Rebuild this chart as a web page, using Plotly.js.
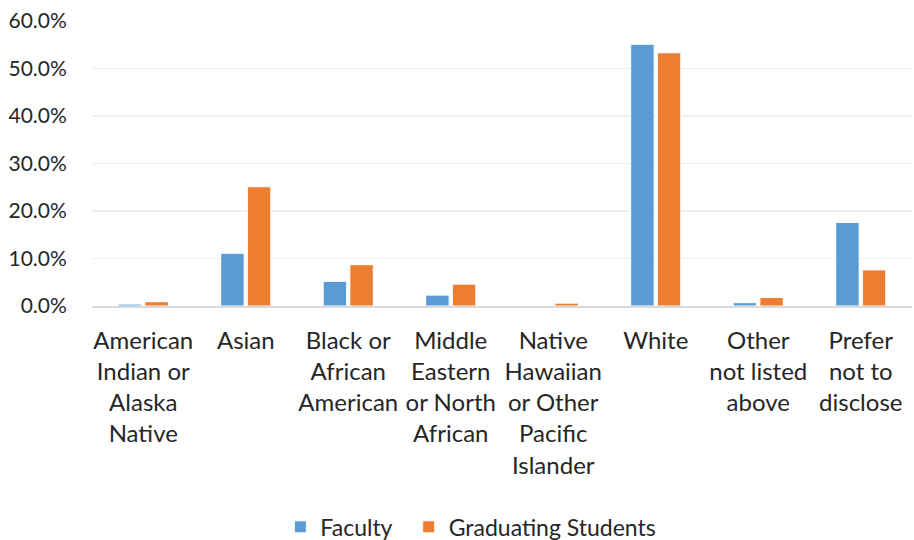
<!DOCTYPE html>
<html>
<head>
<meta charset="utf-8">
<script src="https://cdn.plot.ly/plotly-3.0.1.min.js"></script>
<style>html,body{margin:0;padding:0;background:#fff;}#chart{width:914px;height:540px;}</style>
</head>
<body>
<div id="chart"></div>
<script>
var categories = [
  "American<br>Indian or<br>Alaska<br>Native",
  "Asian",
  "Black or<br>African<br>American",
  "Middle<br>Eastern<br>or North<br>African",
  "Native<br>Hawaiian<br>or Other<br>Pacific<br>Islander",
  "White",
  "Other<br>not listed<br>above",
  "Prefer<br>not to<br>disclose"
];
var faculty = [0.4, 11.1, 5.2, 2.3, 0.0, 55.1, 0.7, 17.6];
var students = [0.9, 25.1, 8.7, 4.6, 0.6, 53.3, 1.8, 7.6];
var yTickVals = [0, 10, 20, 30, 40, 50, 60];
var yTickText = ["0.0%", "10.0%", "20.0%", "30.0%", "40.0%", "50.0%", "60.0%"];

var fam = "Lato, 'Open Sans', sans-serif";
var yFont = {family: fam, size: 21, color: "#262626"};
var xFont = {family: fam, size: 24, color: "#262626"};
var legFont = {family: fam, size: 23, color: "#262626"};

var data = [
  {type: "bar", name: "Faculty\u00a0\u00a0", x: categories, y: faculty,
   marker: {color: "#5b9bd5", line: {color: "#ffffff", width: 1}}},
  {type: "bar", name: "Graduating Students", x: categories, y: students,
   marker: {color: "#ed7d31", line: {color: "#ffffff", width: 1}}}
];

var layout = {
  width: 914, height: 540,
  margin: {l: 92, r: 2, t: 21, b: 234, autoexpand: false},
  paper_bgcolor: "#ffffff", plot_bgcolor: "#ffffff",
  font: xFont,
  barmode: "group", bargap: 0.48, bargroupgap: 0.12,
  showlegend: true,
  legend: {orientation: "h", x: 0.462, xanchor: "center", y: -0.775, yanchor: "middle",
           font: legFont, traceorder: "normal", itemwidth: 30},
  xaxis: {type: "category", showgrid: false, showline: true, linecolor: "#d9d9d9", linewidth: 2,
          ticks: "outside", ticklen: 12, tickcolor: "rgba(0,0,0,0)", tickfont: xFont,
          tickangle: 0, zeroline: false, fixedrange: true, automargin: false},
  yaxis: {range: [0, 60], tickvals: yTickVals, ticktext: yTickText,
          showgrid: true, gridcolor: "#efefef", gridwidth: 1.5, zeroline: false, showline: false,
          ticks: "outside", ticklen: 20, tickcolor: "rgba(0,0,0,0)", tickfont: yFont, fixedrange: true, automargin: false}
};

Plotly.newPlot("chart", data, layout, {displayModeBar: false, staticPlot: true});
</script>
</body>
</html>
